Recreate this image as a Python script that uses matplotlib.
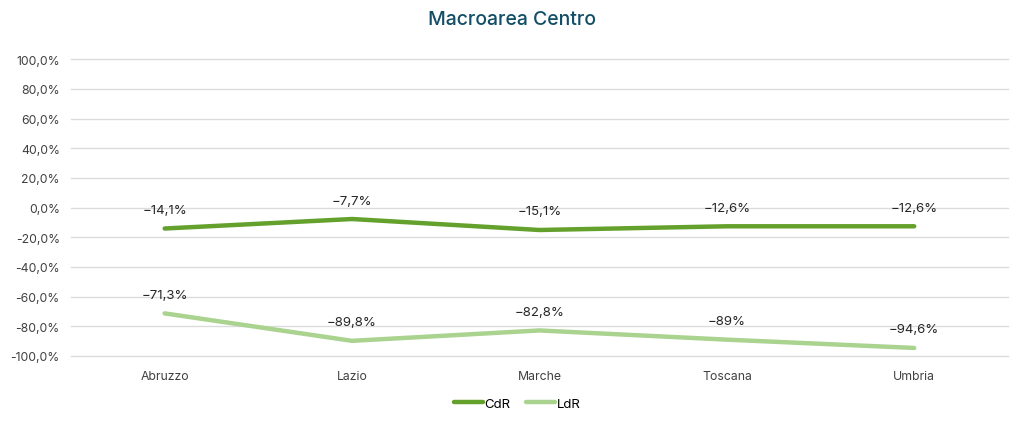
import matplotlib.pyplot as plt
from matplotlib.ticker import FuncFormatter

plt.rcParams['font.family'] = ['Inter', 'DejaVu Sans']

regions = ['Abruzzo', 'Lazio', 'Marche', 'Toscana', 'Umbria']
cdr = [-14.1, -7.7, -15.1, -12.6, -12.6]
ldr = [-71.3, -89.8, -82.8, -89.0, -94.6]
cdr_labels = ['\u221214,1%', '\u22127,7%', '\u221215,1%', '\u221212,6%', '\u221212,6%']
ldr_labels = ['\u221271,3%', '\u221289,8%', '\u221282,8%', '\u221289%', '\u221294,6%']

fig = plt.figure(figsize=(10.24, 4.27), dpi=100)
ax = fig.add_axes([0.0693, 0.164, 0.915, 0.695])

x = range(len(regions))
ax.plot(x, cdr, color='#64A02C', lw=3.2, solid_capstyle='round', label='CdR', zorder=3)
ax.plot(x, ldr, color='#A9D38E', lw=3.2, solid_capstyle='round', label='LdR', zorder=3)

for i in x:
    ax.annotate(cdr_labels[i], (i, cdr[i]), xytext=(0, 9), textcoords='offset points',
                ha='center', va='bottom', fontsize=9.5, color='#262626')
    ax.annotate(ldr_labels[i], (i, ldr[i]), xytext=(0, 9), textcoords='offset points',
                ha='center', va='bottom', fontsize=9.5, color='#262626')

ax.set_xlim(-0.5, len(regions) - 0.5)
ax.set_ylim(-100, 100)
ax.set_yticks(range(-100, 101, 20))
ax.yaxis.set_major_formatter(FuncFormatter(lambda v, p: f'{v:.1f}%'.replace('.', ',')))
ax.set_xticks(list(x))
ax.set_xticklabels(regions)
ax.tick_params(length=0, labelsize=8.8, colors='#404040')
ax.tick_params(axis='x', pad=10)
ax.tick_params(axis='y', pad=8)
ax.grid(axis='y', color='#DCDCDC', lw=1)
ax.set_axisbelow(True)
for s in ax.spines.values():
    s.set_visible(False)
for gl in ax.get_ygridlines():
    gl.set_clip_on(False)

fig.suptitle('Macroarea Centro', y=0.975, fontsize=14, color='#124E66', fontweight='medium')
fig.legend(loc='center', bbox_to_anchor=(0.505, 0.052), ncol=2, frameon=False,
           fontsize=9.5, handlelength=2.2, handletextpad=0.1, columnspacing=1.2)

fig.savefig('out.png', dpi=100)
